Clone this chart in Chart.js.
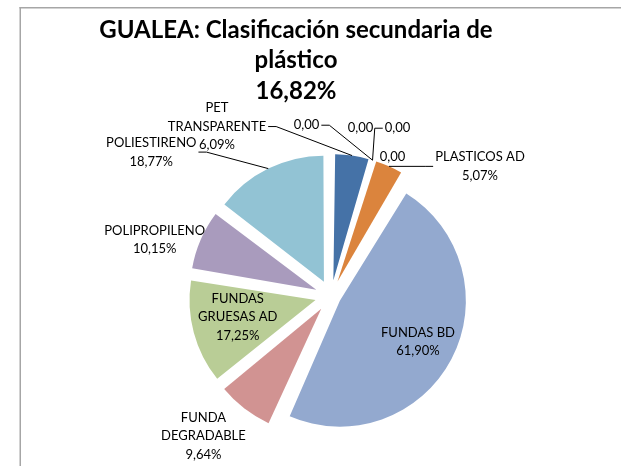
<!DOCTYPE html>
<html>
<head>
<meta charset="utf-8">
<script src="https://cdn.jsdelivr.net/npm/chart.js@4/dist/chart.umd.min.js"></script>
<style>
  html, body { margin: 0; padding: 0; background: #fff; overflow: hidden; }
  canvas { display: block; }
</style>
</head>
<body>
<canvas id="pie" width="621" height="466"></canvas>
<script>
const titleLines = ['GUALEA: Clasificación secundaria de', 'plástico', '16,82%'];
const categories = [['PET', 'TRANSPARENTE'], '', '', '', '', 'PLASTICOS AD', 'FUNDAS BD',
  ['FUNDA', 'DEGRADABLE'], ['FUNDAS', 'GRUESAS AD'], 'POLIPROPILENO', 'POLIESTIRENO'];
const values = [6.09, 0, 0, 0, 0, 5.07, 61.90, 9.64, 17.25, 10.15, 18.77];

// styling
const colors = ['#4572a7', '#aa4643', '#89a54e', '#71588f', '#4198af', '#db843d',
  '#93a9cf', '#d19392', '#b9cd96', '#a99bbd', '#92c3d4'];
const explode = [64, 64, 64, 64, 64, 64, 40, 64, 64, 64, 64]; // chart.js offset, slice moves offset/4
const pieRadius = 126;
// label centre relative to the outer middle of its slice
const labelShift = [[-135, -29], [-66, -35], [-12, -32], [25, -32], [20, -3], [91, 0],
  [-33.5, -17.5], [-41, 27.5], [44, -15.5], [-46, 0], [-117, -16.5]];
const leaderSide = ['right', 'right', null, 'left', null, 'left', null, null, null, null, 'right'];
const lineH = 18.5;

function fmt(v) {
  return v.toFixed(2).replace('.', ',') + (v > 0 ? '%' : '');
}

const pieLabels = {
  id: 'pieLabels',
  beforeDraw(chart) {
    // frame of the original chart, only left and top edges are visible
    const ctx = chart.ctx;
    ctx.save();
    ctx.fillStyle = '#a6a6a6';
    ctx.fillRect(19.5, 7, 1.5, chart.height - 7);
    ctx.fillRect(19.5, 7, chart.width - 19.5, 1.5);
    ctx.restore();
  },
  beforeDatasetsDraw(chart) {
    // chart.js grows exploded arcs a bit, keep them all the same size
    chart.getDatasetMeta(0).data.forEach((arc, i) => {
      const fix = 1 - Math.sin(Math.min(Math.PI, arc.circumference));
      arc.outerRadius = pieRadius - explode[i] / 4 * fix;
    });
  },
  afterDraw(chart) {
    const ctx = chart.ctx;
    ctx.save();
    ctx.fillStyle = '#000';
    ctx.textAlign = 'center';
    ctx.textBaseline = 'middle';
    ctx.font = 'bold 24px Lato';
    titleLines.forEach((s, k) => ctx.fillText(s, 296, 30 + k * 30.5));

    ctx.font = '13px Lato';
    ctx.strokeStyle = '#000';
    ctx.lineWidth = 1;
    chart.getDatasetMeta(0).data.forEach((arc, i) => {
      const mid = (arc.startAngle + arc.endAngle) / 2;
      const r = pieRadius + explode[i] / 4;
      const px = arc.x + Math.cos(mid) * r;
      const py = arc.y + Math.sin(mid) * r;
      const lines = [].concat(categories[i]).filter(s => s);
      lines.push(fmt(values[i]));
      const cx = px + labelShift[i][0];
      const cy = py + labelShift[i][1];
      const h = lineH * lines.length;
      let w = 0;
      lines.forEach((s, k) => {
        w = Math.max(w, ctx.measureText(s).width);
        ctx.fillText(s, cx, cy - h / 2 + lineH * (k + 0.5));
      });
      if (leaderSide[i]) {
        const dir = leaderSide[i] === 'right' ? 1 : -1;
        const ex = cx + dir * (w / 2 + 2);
        ctx.beginPath();
        ctx.moveTo(ex, cy);
        ctx.lineTo(ex + dir * 8, cy);
        ctx.lineTo(px, py);
        ctx.stroke();
      }
    });
    ctx.restore();
  }
};

new Chart(document.getElementById('pie'), {
  type: 'pie',
  data: {
    labels: categories,
    datasets: [{
      data: values,
      backgroundColor: colors,
      borderWidth: 0,
      offset: explode,
      hoverOffset: 0,
      radius: pieRadius
    }]
  },
  options: {
    responsive: false,
    animation: false,
    layout: { padding: { left: 41, right: 0, top: 126, bottom: 0 } },
    plugins: {
      legend: { display: false },
      tooltip: { enabled: false },
      title: { display: false }
    }
  },
  plugins: [pieLabels]
});
</script>
</body>
</html>
